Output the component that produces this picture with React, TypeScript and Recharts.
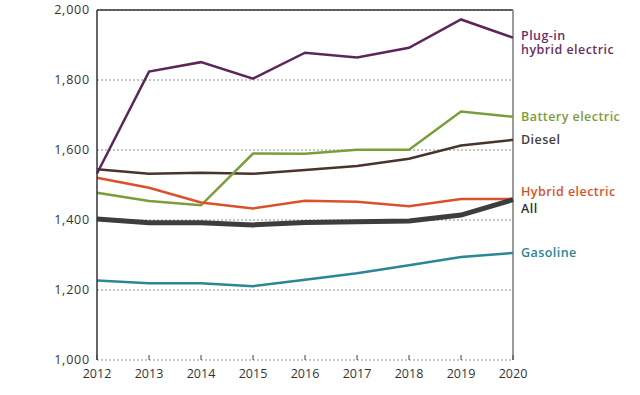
import React from "react"
import {
  LineChart,
  Line,
  XAxis,
  YAxis,
  CartesianGrid,
  ReferenceLine,
  LabelList
} from "recharts"

const years = ["2012", "2013", "2014", "2015", "2016", "2017", "2018", "2019", "2020"]
const plugIn = [1533, 1824, 1851, 1804, 1878, 1864, 1892, 1973, 1921]
const battery = [1478, 1454, 1442, 1590, 1589, 1601, 1601, 1710, 1695]
const diesel = [1545, 1532, 1535, 1532, 1543, 1554, 1575, 1613, 1629]
const hybrid = [1521, 1492, 1450, 1433, 1455, 1452, 1439, 1460, 1460]
const all = [1403, 1392, 1392, 1386, 1393, 1395, 1397, 1414, 1458]
const gasoline = [1227, 1219, 1219, 1211, 1229, 1248, 1271, 1294, 1306]
const yTicks = [1000, 1200, 1400, 1600, 1800, 2000]

const data = years.map((year, i) => ({
  year,
  plugIn: plugIn[i],
  battery: battery[i],
  diesel: diesel[i],
  hybrid: hybrid[i],
  all: all[i],
  gasoline: gasoline[i]
}))

const labelFont = "'Open Sans', 'Noto Sans', sans-serif"

// series config: key, colour, line width, end label lines with their vertical offsets
const series = [
  { key: "gasoline", color: "#2b8696", width: 2.5, label: ["Gasoline"], dy: [0], textColor: "#2b8696" },
  { key: "diesel", color: "#4a332c", width: 2.5, label: ["Diesel"], dy: [0], textColor: "#3e3e3e" },
  { key: "battery", color: "#7a9e3a", width: 2.5, label: ["Battery electric"], dy: [0], textColor: "#7a9e3a" },
  { key: "hybrid", color: "#d9522c", width: 2.5, label: ["Hybrid electric"], dy: [-8], textColor: "#d9522c" },
  { key: "plugIn", color: "#5c2658", width: 2.5, label: ["Plug-in", "hybrid electric"], dy: [-2.5, 12], textColor: "#6b2f68" },
  { key: "all", color: "#3b3d3f", width: 5, label: ["All"], dy: [9], textColor: "#2f2f2f" }
]

const endLabel = (s: typeof series[number]) => (props: any) => {
  if (props.index !== years.length - 1) return null
  return (
    <g>
      {s.label.map((t, i) => (
        <text
          key={t}
          x={props.x + 8}
          y={props.y + s.dy[i]}
          fill={s.textColor}
          fontFamily={labelFont}
          fontSize={12.5}
          fontWeight={600}
          letterSpacing={0.45}
          dominantBaseline="central"
        >
          {t}
        </text>
      ))}
    </g>
  )
}

const XTick = (props: any) => {
  const { x, y, payload } = props
  return (
    <g>
      <line x1={x} x2={x} y1={y - 6} y2={y - 11} stroke="#444" strokeWidth={1} />
      <text
        x={x}
        y={y + 7}
        textAnchor="middle"
        dominantBaseline="central"
        fill="#333"
        fontFamily={labelFont}
        fontSize={12.5}
      >
        {payload.value}
      </text>
    </g>
  )
}

export default function App() {
  return (
    <div style={{ position: "absolute", left: 0, top: 0, width: 640, height: 395, background: "#fff" }}>
      <LineChart
        width={640}
        height={395}
        data={data}
        margin={{ top: 10, right: 127, left: 0, bottom: 5 }}
      >
        <CartesianGrid vertical={false} stroke="#8a8a8a" strokeDasharray="2 2" />
        <XAxis
          dataKey="year"
          axisLine={false}
          tickLine={false}
          tickSize={0}
          tickMargin={6}
          height={30}
          interval={0}
          tick={<XTick />}
        />
        <YAxis
          domain={[1000, 2000]}
          ticks={yTicks}
          width={97}
          axisLine={{ stroke: "#333", strokeWidth: 1.5 }}
          tickLine={false}
          tickSize={0}
          tickMargin={7}
          tickFormatter={(v: number) => v.toLocaleString("en-US")}
          tick={{ fontSize: 12.5, fill: "#333", fontFamily: labelFont, letterSpacing: 0.8 }}
        />
        <ReferenceLine y={2000} stroke="#333" strokeWidth={1.5} />
        <ReferenceLine x="2020" stroke="#7a7a7a" strokeWidth={1.5} />
        {series.map((s) => (
          <Line
            key={s.key}
            type="linear"
            dataKey={s.key}
            stroke={s.color}
            strokeWidth={s.width}
            dot={false}
            activeDot={false}
            isAnimationActive={false}
          >
            <LabelList dataKey={s.key} content={endLabel(s)} />
          </Line>
        ))}
      </LineChart>
    </div>
  )
}
